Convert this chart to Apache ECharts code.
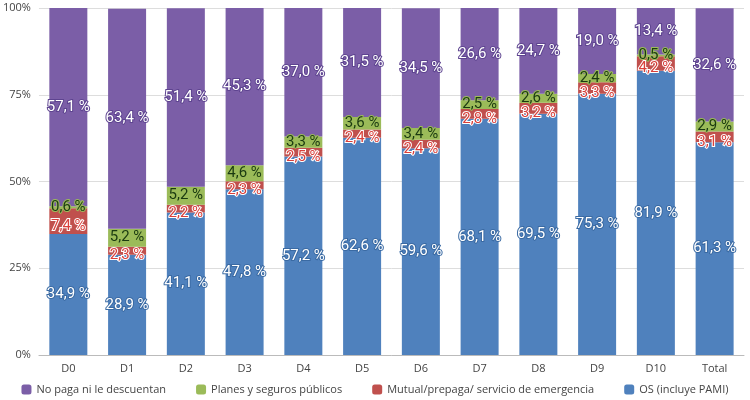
<!DOCTYPE html>
<html><head><meta charset="utf-8">
<script src="https://cdn.jsdelivr.net/npm/echarts@6/dist/echarts.min.js"></script>
<style>body{margin:0}#c{width:750px;height:400px}</style></head>
<body><div id="c"></div>
<script>
var categories = ['D0','D1','D2','D3','D4','D5','D6','D7','D8','D9','D10','Total'];
var os = [34.9,28.9,41.1,47.8,57.2,62.6,59.6,68.1,69.5,75.3,81.9,61.3];
var mutual = [7.4,2.3,2.2,2.3,2.5,2.4,2.4,2.8,3.2,3.3,4.2,3.1];
var planes = [0.6,5.2,5.2,4.6,3.3,3.6,3.4,2.5,2.6,2.4,0.5,2.9];
var noPaga = [57.1,63.4,51.4,45.3,37.0,31.5,34.5,26.6,24.7,19.0,13.4,32.6];

var myChart = echarts.init(document.getElementById('c'));
function fmt(p){ return p.value.toFixed(1).replace('.', ',') + ' %'; }
function lbl(color, border, dy){
    return {show: true, position: 'inside', formatter: fmt, fontSize: 15, offset: [0, dy || 0],
        fontFamily: 'Roboto', color: color, textBorderColor: border, textBorderWidth: 2};
}
myChart.setOption({
    animation: false,
    grid: {left: 38, right: 6, top: 8, bottom: 45},
    legend: {
        bottom: 0, itemWidth: 10, itemHeight: 10, itemGap: 30,
        textStyle: {fontSize: 11, color: '#444', fontFamily: 'Open Sans'},
        data: ['No paga ni le descuentan','Planes y seguros públicos','Mutual/prepaga/ servicio de emergencia','OS (incluye PAMI)']
    },
    xAxis: {
        type: 'category', data: categories,
        axisLine: {lineStyle: {color: '#bbb'}}, axisTick: {show: false},
        axisLabel: {color: '#444', fontSize: 11, fontFamily: 'Open Sans'}
    },
    yAxis: {
        type: 'value', min: 0, max: 100, interval: 25,
        axisLabel: {formatter: '{value}%', color: '#444', fontSize: 11, fontFamily: 'Open Sans'},
        splitLine: {lineStyle: {color: '#ddd'}}
    },
    series: [
        {name: 'OS (incluye PAMI)', type: 'bar', stack: 's', barWidth: 38, data: os,
            itemStyle: {color: '#4f81bd'}, label: lbl('#fff', '#3a6aa3')},
        {name: 'Mutual/prepaga/ servicio de emergencia', type: 'bar', stack: 's', data: mutual,
            itemStyle: {color: '#c0504d'}, label: lbl('#d9403b', '#fff', 5)},
        {name: 'Planes y seguros públicos', type: 'bar', stack: 's', data: planes,
            itemStyle: {color: '#9bbb59'}, label: lbl('#1a3a10', '#9bbb59')},
        {name: 'No paga ni le descuentan', type: 'bar', stack: 's', data: noPaga,
            itemStyle: {color: '#7b5ea7'}, label: lbl('#fff', '#5e4490')}
    ]
});
</script></body></html>
